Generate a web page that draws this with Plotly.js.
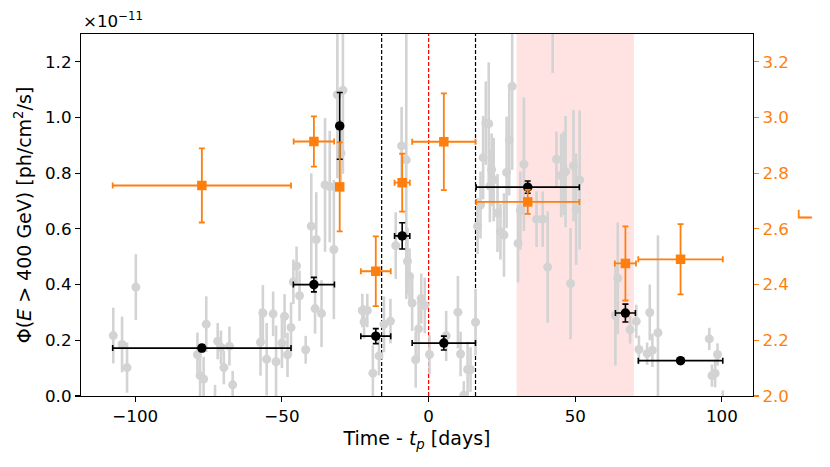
<!DOCTYPE html>
<html>
<head>
<meta charset="utf-8">
<script src="https://cdn.plot.ly/plotly-3.0.1.min.js"></script>
<style>html,body{margin:0;padding:0;background:#fff;}#chart{width:830px;height:467px;}</style>
</head>
<body>
<div id="chart"></div>
<script>
// Daily flux points (grey), flux in units of 1e-11 ph/cm2/s
const dailyX = [-107.5,-104.5,-102.8,-99.8,-78.8,-77.9,-76.7,-75.8,-72.8,-71.9,-70.8,-69.8,-67.9,-66.8,
  -57.3,-56.5,-55.2,-53.0,-52.0,-50.0,-49.1,-48.1,-46.9,-45.0,-46.1,-44.0,-41.9,-40.0,-38.3,-38.7,-36.5,
  -35.3,-33.7,-32.3,-31.1,-29.2,-29.9,
  -22.6,-20.9,-22.0,-19.0,-16.9,-15.2,-13.0,-11.2,-9.2,-7.6,-7.2,-6.5,-5.6,-2.5,-1.3,-3.4,-4.4,0.3,
  6.0,10.0,10.9,12.0,13.3,14.3,16.0,
  16.7,17.7,18.6,19.5,20.5,21.5,22.2,20.9,23.5,24.5,25.7,26.6,27.5,28.5,30.5,31.3,32.5,36.8,38.9,40.6,
  42.3,43.6,45.2,46.0,46.7,48.4,49.4,50.3,51.5,
  64.5,63.7,68.7,70.8,71.7,74.5,76.3,75.4,78.2,95.7,98.5,96.6,97.7,100.3];
const dailyFlux = [0.217,0.185,0.102,0.391,0.148,0.073,0.061,0.258,-0.03,0.197,0.175,0.102,0.179,0.040,
  0.193,0.298,0.132,0.295,0.123,0.190,0.286,0.148,0.246,0.467,0.410,0.360,0.166,0.610,0.562,0.314,0.296,
  0.758,0.752,0.526,1.082,1.098,0.872,
  0.307,0.307,0.266,0.082,0.144,0.257,0.269,0.540,0.898,0.848,0.484,0.430,0.334,0.350,0.325,0.241,0.130,0.149,
  0.216,0.301,0.151,0.003,0.095,0.095,0.265,
  0.610,0.686,0.856,0.980,0.978,0.813,0.777,0.754,0.657,0.590,0.578,0.803,0.920,1.112,0.548,0.666,0.832,0.635,0.635,0.463,
  1.360,0.850,0.792,0.800,0.806,0.404,0.827,0.671,0.776,
  0.423,0.289,0.238,0.268,0.167,0.152,0.164,0.300,0.227,0.205,0.149,0.073,0.081,-0.05];
const dailyErr = [0.10,0.10,0.09,0.118,0.08,0.08,0.08,0.10,0.07,0.065,0.06,0.06,0.07,0.05,
  0.12,0.10,0.13,0.08,0.13,0.09,0.08,0.08,0.09,0.07,0.08,0.09,0.05,0.19,0.17,0.09,0.12,
  0.24,0.20,0.25,0.30,0.30,0.12,
  0.06,0.06,0.06,0.10,0.07,0.10,0.08,0.12,0.14,0.50,0.12,0.10,0.10,0.09,0.10,0.11,0.10,0.07,
  0.09,0.13,0.08,0.05,0.10,0.08,0.12,
  0.10,0.12,0.15,0.15,0.22,0.13,0.15,0.13,0.14,0.10,0.15,0.20,0.20,0.30,0.14,0.14,0.24,0.10,0.10,0.20,
  0.20,0.10,0.15,0.15,0.20,0.20,0.20,0.20,0.25,
  0.20,0.18,0.05,0.06,0.05,0.04,0.06,0.10,0.35,0.04,0.04,0.04,0.05,0.07];

// Binned flux (black) and binned photon index (orange)
const binX = [-77.3,-39.1,-30.3,-18.0,-9.0,5.2,33.8,67.1,85.9];
const binXErr = [30.4,7.0,0,5.1,2.6,10.8,17.6,3.4,14.4];
const binFlux = [0.172,0.400,0.970,0.215,0.575,0.190,0.750,0.298,0.127];
const binFluxErr = [0.012,0.026,0.12,0.027,0.047,0.025,0.022,0.032,0.010];
const gammaXErr = [30.4,6.9,0,5.1,2.6,10.8,17.6,3.6,14.4];
const gamma = [2.756,2.914,2.751,2.448,2.766,2.913,2.697,2.476,2.491];
const gammaErr = [0.133,0.090,0.160,0.125,0.104,0.174,0.043,0.133,0.126];

// Reference lines and shaded interval (days)
const blackLines = [-16, 16];
const redLine = 0;
const span = [30, 70];

const orange = '#ff7f0e';
const fnt = 'DejaVu Sans, sans-serif';
const tickSize = 16.7;
const labelSize = 19;

const traces = [
  {x: dailyX, y: dailyFlux, type: 'scatter', mode: 'markers', xaxis: 'x', yaxis: 'y',
   marker: {color: '#d3d3d3', size: 9},
   error_y: {type: 'data', array: dailyErr, visible: true, color: '#d3d3d3', thickness: 2.6, width: 0},
   showlegend: false, hoverinfo: 'skip'},
  {x: binX, y: binFlux, type: 'scatter', mode: 'markers', xaxis: 'x', yaxis: 'y',
   marker: {color: '#000000', size: 9.5},
   error_x: {type: 'data', array: binXErr, visible: true, color: '#000', thickness: 1.6, width: 3},
   error_y: {type: 'data', array: binFluxErr, visible: true, color: '#000', thickness: 1.6, width: 3},
   showlegend: false},
  {x: binX, y: gamma, type: 'scatter', mode: 'markers', xaxis: 'x', yaxis: 'y2',
   marker: {color: orange, size: 9.5, symbol: 'square'},
   error_x: {type: 'data', array: gammaXErr, visible: true, color: orange, thickness: 1.8, width: 3},
   error_y: {type: 'data', array: gammaErr, visible: true, color: orange, thickness: 1.8, width: 3},
   showlegend: false}
];

const shapes = [
  {type: 'rect', xref: 'x', yref: 'paper', x0: span[0], x1: span[1], y0: 0, y1: 1,
   fillcolor: 'rgba(255,0,0,0.11)', line: {width: 0}, layer: 'below'}
];
blackLines.forEach(v => shapes.push({type: 'line', xref: 'x', yref: 'paper', x0: v, x1: v, y0: 0, y1: 1,
  line: {color: '#000', width: 1.2, dash: '4px,2px'}, layer: 'below'}));
shapes.push({type: 'line', xref: 'x', yref: 'paper', x0: redLine, x1: redLine, y0: 0, y1: 1,
  line: {color: 'red', width: 1.2, dash: '4px,2px'}, layer: 'below'});

const layout = {
  width: 830, height: 467,
  margin: {l: 81, r: 77, t: 34, b: 71},
  paper_bgcolor: '#fff', plot_bgcolor: '#fff',
  font: {family: fnt, size: tickSize, color: '#000'},
  showlegend: false,
  xaxis: {
    range: [-118.5, 110.6], tickvals: [-100, -50, 0, 50, 100],
    ticks: 'outside', ticklen: 5, tickwidth: 1.1, tickcolor: '#000',
    tickfont: {size: tickSize},
    showline: true, linecolor: '#000', linewidth: 1.1, mirror: true,
    showgrid: false, zeroline: false,
    title: {text: 'Time - <i>t</i><sub><i>p</i></sub> [days]', font: {size: labelSize}, standoff: 6}
  },
  yaxis: {
    range: [0, 1.3], dtick: 0.2, tick0: 0, tickformat: '.1f',
    ticks: 'outside', ticklen: 5, tickwidth: 1.1, tickcolor: '#000',
    tickfont: {size: tickSize},
    showline: true, linecolor: '#000', linewidth: 1.1, mirror: true,
    showgrid: false, zeroline: false,
    title: {text: 'Φ(<i>E</i> > 400 GeV) [ph/cm<sup>2</sup>/s]', font: {size: labelSize}, standoff: 8}
  },
  yaxis2: {
    overlaying: 'y', side: 'right',
    range: [2.0, 3.3], dtick: 0.2, tick0: 2.0, tickformat: '.1f',
    ticks: 'outside', ticklen: 5, tickwidth: 1.1, tickcolor: orange,
    tickfont: {color: orange, size: tickSize},
    showline: true, linecolor: '#000', linewidth: 1.1,
    showgrid: false, zeroline: false,
    title: {text: 'Γ', font: {color: orange, size: labelSize}, standoff: 10}
  },
  shapes: shapes,
  annotations: [
    {xref: 'paper', yref: 'paper', x: 0, y: 1, xanchor: 'left', yanchor: 'bottom',
     text: '×10<sup>−11</sup>', showarrow: false, font: {size: tickSize}, yshift: 1}
  ]
};

Plotly.newPlot('chart', traces, layout, {staticPlot: true, displayModeBar: false});
</script>
</body>
</html>
